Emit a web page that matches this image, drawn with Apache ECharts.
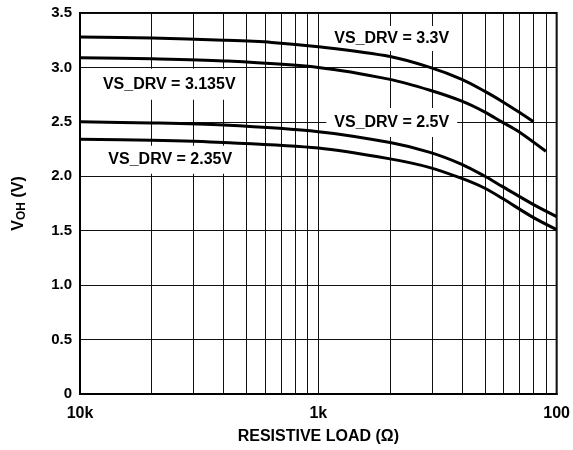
<!DOCTYPE html>
<html>
<head>
<meta charset="utf-8">
<script src="https://cdn.jsdelivr.net/npm/echarts@6/dist/echarts.min.js"></script>
<style>
html,body{margin:0;padding:0;background:#fff;}
#chart{width:573px;height:450px;}
</style>
</head>
<body>
<div id="chart"></div>
<script>
// ---- data (resistive load in ohms, V_OH in volts) ----
const r33   = [10000, 5000, 2500, 1570, 1000, 500, 340, 250, 200, 170, 144, 125];
const v33   = [3.28, 3.27, 3.25, 3.23, 3.19, 3.10, 3.00, 2.89, 2.78, 2.69, 2.59, 2.50];
const r3135 = [10000, 5000, 2500, 1000, 500, 340, 250, 200, 170, 144, 111];
const v3135 = [3.09, 3.08, 3.06, 3.00, 2.89, 2.79, 2.69, 2.59, 2.50, 2.41, 2.23];
const r25   = [10000, 5000, 2500, 1000, 500, 340, 250, 200, 170, 125, 100];
const v25   = [2.50, 2.49, 2.47, 2.41, 2.31, 2.22, 2.11, 2.00, 1.91, 1.74, 1.63];
const r235  = [10000, 5000, 2500, 1000, 500, 340, 250, 200, 170, 125, 100];
const v235  = [2.34, 2.33, 2.31, 2.26, 2.16, 2.08, 1.98, 1.89, 1.80, 1.62, 1.51];

const seriesNames = ['VS_DRV = 3.3V', 'VS_DRV = 3.135V', 'VS_DRV = 2.5V', 'VS_DRV = 2.35V'];
const xTickLabels = {100: '100', 1000: '1k', 10000: '10k'};
const yTickLabels = ['0', '0.5', '1.0', '1.5', '2.0', '2.5', '3.0', '3.5'];
// minor vertical grid lines (as drawn in the reference)
const minorGrid = [5000, 3333, 2500, 2000, 1667, 1429, 1250, 1111,
                   500, 333, 250, 200, 167, 143, 125, 111];

function pairs(xs, ys) { return xs.map((x, i) => [x, ys[i]]); }

const FONT = 'Liberation Sans, Arial, Helvetica, sans-serif';
const chart = echarts.init(document.getElementById('chart'), null, {renderer: 'canvas'});

const curve = (name, xs, ys) => ({
  name, type: 'line', data: pairs(xs, ys), smooth: 0.3,
  showSymbol: false, symbol: 'none',
  lineStyle: {color: '#000', width: 3}, z: 6, silent: true
});

const labelStyle = {
  show: true, position: 'inside', color: '#000', fontFamily: FONT, fontWeight: 'bold',
  fontSize: 16, lineHeight: 16, backgroundColor: '#fff'
};

chart.setOption({
  animation: false,
  backgroundColor: '#fff',
  grid: {left: 80, right: 15, top: 13, bottom: 55, show: true, borderColor: '#000', borderWidth: 2},
  xAxis: {
    type: 'log', logBase: 10, min: 100, max: 10000, inverse: true,
    axisLine: {show: true, lineStyle: {color: '#000', width: 2}},
    axisTick: {show: false},
    splitLine: {show: true, lineStyle: {color: '#111', width: 1}},
    axisLabel: {
      color: '#000', fontFamily: FONT, fontWeight: 'bold', fontSize: 16, margin: 12,
      formatter: v => xTickLabels[Math.round(v)] || ''
    },
    name: 'RESISTIVE LOAD (Ω)', nameLocation: 'middle', nameGap: 35,
    nameTextStyle: {color: '#000', fontFamily: FONT, fontWeight: 'bold', fontSize: 16}
  },
  yAxis: {
    type: 'value', min: 0, max: 3.5, interval: 0.5,
    axisLine: {show: true, lineStyle: {color: '#000', width: 2}},
    axisTick: {show: false},
    splitLine: {show: true, lineStyle: {color: '#111', width: 1}},
    axisLabel: {
      color: '#000', fontFamily: FONT, fontWeight: 'bold', fontSize: 15, margin: 8,
      formatter: v => yTickLabels[Math.round(v / 0.5)]
    },
    name: '{v|V}{s|OH}{v| (V)}', nameLocation: 'middle', nameGap: 52, nameRotate: 90,
    nameTextStyle: {
      rich: {
        v: {color: '#000', fontFamily: FONT, fontWeight: 'bold', fontSize: 16, lineHeight: 18},
        s: {color: '#000', fontFamily: FONT, fontWeight: 'bold', fontSize: 12, lineHeight: 8, verticalAlign: 'bottom'}
      }
    }
  },
  series: [
    {
      type: 'line', data: [], silent: true, z: 1,
      markLine: {
        silent: true, symbol: 'none', z: 1, animation: false,
        label: {show: false},
        lineStyle: {color: '#111', width: 1, type: 'solid'},
        data: minorGrid.map(x => ({xAxis: x}))
      }
    },
    curve(seriesNames[0], r33, v33),
    curve(seriesNames[1], r3135, v3135),
    curve(seriesNames[2], r25, v25),
    curve(seriesNames[3], r235, v235),
    {
      type: 'line', data: [], silent: true, z: 4,
      markPoint: {
        silent: true, z: 4, symbol: 'circle', symbolSize: 1, itemStyle: {color: 'rgba(0,0,0,0)'},
        data: [
          {coord: [492, 3.265], value: seriesNames[0], label: Object.assign({}, labelStyle, {formatter: seriesNames[0], padding: [5, 8, 4, 8]})},
          {coord: [4222, 2.846], value: seriesNames[1], label: Object.assign({}, labelStyle, {formatter: seriesNames[1], padding: [10, 8, 5, 8]})},
          {coord: [492, 2.495], value: seriesNames[2], label: Object.assign({}, labelStyle, {formatter: seriesNames[2], padding: [6, 8, 7, 8]})},
          {coord: [4181, 2.152], value: seriesNames[3], label: Object.assign({}, labelStyle, {formatter: seriesNames[3], padding: [6, 8, 6, 8]})}
        ]
      }
    }
  ]
});
</script>
</body>
</html>
